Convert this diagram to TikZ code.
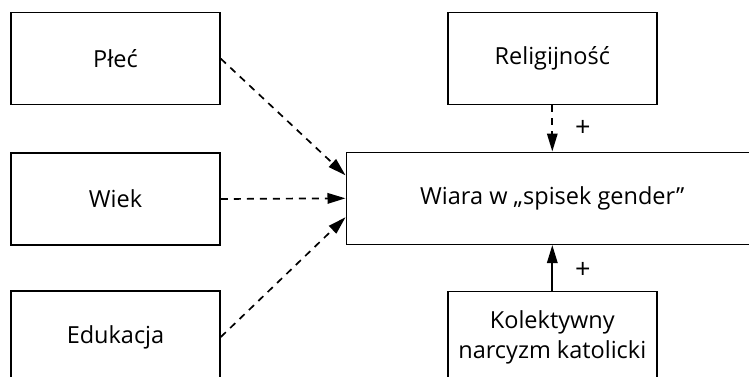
\documentclass[tikz,border=0pt]{standalone}
\usepackage{fontspec}
\setmainfont{Open Sans}
\usetikzlibrary{arrows.meta}
\usetikzlibrary{positioning}
\tikzstyle{box}=[draw,line width=1.6pt,minimum width=209pt,minimum height=92pt,inner sep=0pt,align=center,font=\fontsize{23.5pt}{30pt}\selectfont]
\tikzstyle{widebox}=[box,minimum width=412pt]
\tikzstyle{edge} = [draw,line width=1.7pt,-{Triangle[length=18pt,width=10.5pt]}]
\tikzstyle{dashededge} = [edge,dash pattern=on 7pt off 6pt]
\tikzstyle{sign} = [font=\fontsize{27pt}{30pt}\selectfont,inner sep=0pt]

\begin{document}
\begin{tikzpicture}[x=1pt,y=-1pt]
    \useasboundingbox (0,0) rectangle (749,377);

    % Predictors on the left
    \foreach \pos/\name/\label in {{(115.5,58.7)/plec/Płeć}, {(115.5,199)/wiek/Wiek}, {(115.5,337)/edukacja/Edukacja}}
        \node[box] (\name) at \pos {\label};

    % Right column
    \node[box] (religia) at (552.3,58.5) {Religijność};
    \node[widebox] (wiara) at (552.3,198.3) {Wiara w „spisek gender”};
    \node[box] (narcyzm) at (552.3,337.5) {Kolektywny\\narcyzm katolicki};

    % Connect boxes
    \path[dashededge] (plec.east) -- ([yshift=23pt]wiara.west);
    \path[dashededge] (wiek.east) -- (wiara.west);
    \path[dashededge] (edukacja.east) -- ([yshift=-19pt]wiara.west);
    \path[dashededge] (religia) -- node[sign,right=22pt] {+} (wiara);
    \path[edge] (narcyzm) -- node[sign,right=22pt,yshift=-3pt] {+} (wiara);

\end{tikzpicture}
\end{document}
